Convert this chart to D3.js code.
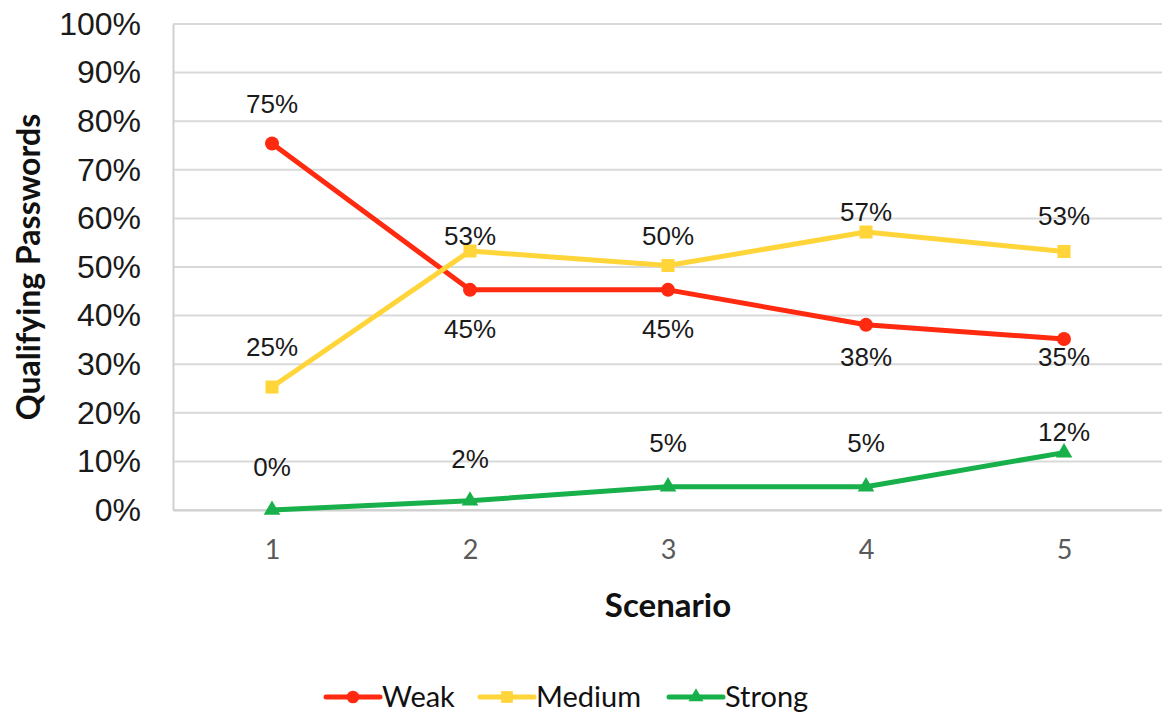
<!DOCTYPE html>
<html>
<head>
<meta charset="utf-8">
<script src="https://cdn.jsdelivr.net/npm/d3@7"></script>
<style>
  html, body { margin: 0; padding: 0; background: #fff; }
  svg { display: block; }
</style>
</head>
<body>
<div id="chart"></div>
<script>
// Data (percent)
const scenarios = [1, 2, 3, 4, 5];
const weak = [75.4, 45.3, 45.3, 38.1, 35.2];
const medium = [25.3, 53.3, 50.3, 57.2, 53.2];
const strong = [0, 1.9, 4.8, 4.8, 11.8];
const yTicks = [0, 10, 20, 30, 40, 50, 60, 70, 80, 90, 100];
const seriesNames = ["Weak", "Medium", "Strong"];

const W = 1162, H = 715;
const plot = { left: 173, right: 1163, top: 24, bottom: 510 };

const svg = d3.select("#chart").append("svg")
    .attr("width", W)
    .attr("height", H);

//Scales
const x = d3.scalePoint()
    .domain(scenarios)
    .range([plot.left, plot.right])
    .padding(0.5);
const y = d3.scaleLinear()
    .domain([0, 100])
    .range([plot.bottom, plot.top]);

//Gridlines
svg.append("g")
    .selectAll("line")
    .data(yTicks)
    .join("line")
    .attr("x1", plot.left)
    .attr("x2", plot.right)
    .attr("y1", d => y(d))
    .attr("y2", d => y(d))
    .attr("stroke", "#d9d9d9")
    .attr("stroke-width", 2);

//Y axis
const yAxis = svg.append("g")
    .attr("transform", "translate(" + plot.left + ",0)")
    .call(d3.axisLeft(y).tickValues(yTicks).tickSize(0).tickPadding(32).tickFormat(d => d + "%"));
yAxis.select(".domain").attr("stroke", "#d0d0d0").attr("stroke-width", 2);
yAxis.selectAll("text")
    .attr("font-family", "Liberation Sans, Arial, sans-serif")
    .attr("font-size", 32)
    .attr("fill", "#1a1a1a");

//X axis
const xAxis = svg.append("g")
    .attr("transform", "translate(0," + plot.bottom + ")")
    .call(d3.axisBottom(x).tickSize(0).tickPadding(30));
xAxis.select(".domain").attr("stroke", "#d0d0d0").attr("stroke-width", 2);
xAxis.selectAll("text")
    .attr("font-family", "Lato, Carlito, sans-serif")
    .attr("font-size", 27)
    .attr("fill", "#595959");

//Axis titles
svg.append("text")
    .attr("x", 668)
    .attr("y", 617)
    .attr("text-anchor", "middle")
    .attr("font-family", "Lato, sans-serif")
    .attr("font-weight", "bold")
    .attr("font-size", 33)
    .attr("fill", "#111")
    .text("Scenario");

svg.append("text")
    .attr("transform", "translate(40,267) rotate(-90)")
    .attr("text-anchor", "middle")
    .attr("font-family", "Lato, sans-serif")
    .attr("font-weight", "bold")
    .attr("font-size", 32)
    .attr("fill", "#111")
    .text("Qualifying Passwords");

//Series setup
const colors = { Weak: "#ff2a0f", Medium: "#ffd53a", Strong: "#17b04a" };
const seriesValues = { Weak: weak, Medium: medium, Strong: strong };
// vertical offset of each data label from its point
const labelDy = {
  Weak: [-40, 39, 39, 32, 18],
  Medium: [-40, -15, -30, -20, -36],
  Strong: [-43, -42, -44, -44, -21]
};

const line = d3.line()
    .x(d => x(d.s))
    .y(d => y(d.v));

function drawMarker(g, name, cx, cy, scale) {
  const s = scale || 1;
  if (name === "Weak") {
    g.append("circle").attr("cx", cx).attr("cy", cy).attr("r", 7 * s).attr("fill", colors[name]);
  } else if (name === "Medium") {
    g.append("rect").attr("x", cx - 6.5 * s).attr("y", cy - 6.5 * s)
      .attr("width", 13 * s).attr("height", 13 * s).attr("fill", colors[name]);
  } else {
    g.append("path")
      .attr("d", d3.symbol().type(d3.symbolTriangle).size(120 * s * s)())
      .attr("transform", "translate(" + cx + "," + cy + ")")
      .attr("fill", colors[name]);
  }
}

const seriesG = svg.append("g");
seriesNames.forEach(function(name) {
  const pts = scenarios.map((s, i) => ({ s: s, v: seriesValues[name][i] }));
  seriesG.append("path")
    .datum(pts)
    .attr("d", line)
    .attr("fill", "none")
    .attr("stroke", colors[name])
    .attr("stroke-width", 5)
    .attr("stroke-linejoin", "round");
  pts.forEach(p => drawMarker(seriesG, name, x(p.s), y(p.v)));
});

//Data labels
seriesNames.forEach(function(name) {
  svg.append("g")
    .selectAll("text")
    .data(seriesValues[name])
    .join("text")
    .attr("x", (d, i) => x(scenarios[i]))
    .attr("y", (d, i) => y(d) + labelDy[name][i])
    .attr("dy", "0.36em")
    .attr("text-anchor", "middle")
    .attr("font-family", "Liberation Sans, Arial, sans-serif")
    .attr("font-size", 26)
    .attr("fill", "#1a1a1a")
    .text(d => Math.round(d) + "%");
});

//Legend
const legendItems = [
  { name: "Weak", x: 326 },
  { name: "Medium", x: 480 },
  { name: "Strong", x: 669 }
];
const legend = svg.append("g");
legendItems.forEach(function(item) {
  const ly = 697;
  legend.append("line")
    .attr("x1", item.x).attr("x2", item.x + 54)
    .attr("y1", ly).attr("y2", ly)
    .attr("stroke", colors[item.name])
    .attr("stroke-width", 5)
    .attr("stroke-linecap", "round");
  drawMarker(legend, item.name, item.x + 27, ly, 0.9);
  legend.append("text")
    .attr("x", item.x + 56)
    .attr("y", ly)
    .attr("dy", "0.36em")
    .attr("font-family", "Lato, Carlito, sans-serif")
    .attr("font-size", 29)
    .attr("fill", "#111")
    .text(item.name);
});
</script>
</body>
</html>
